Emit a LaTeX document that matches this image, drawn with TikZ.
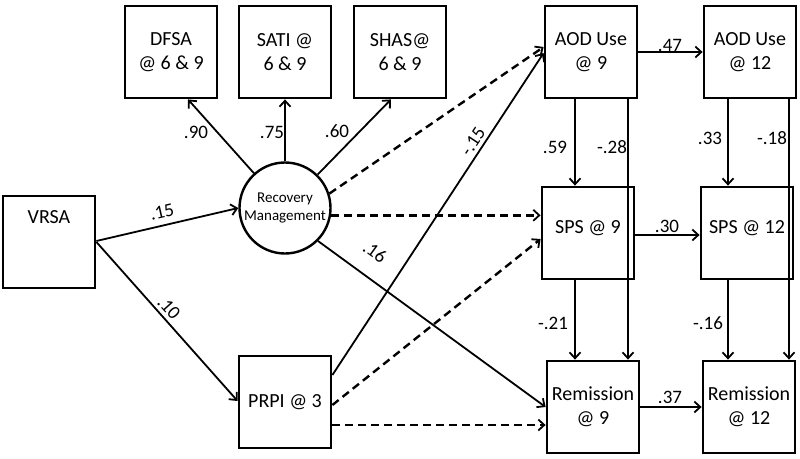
\documentclass[tikz,border=0pt]{standalone}
\usepackage{fontspec}
\setmainfont{Carlito}
\usetikzlibrary{arrows.meta,calc}
\begin{document}
\begin{tikzpicture}[x=1pt,y=-1pt,
  box/.style={draw, line width=2.8pt, minimum width=92pt, minimum height=92pt, inner sep=0pt, align=center, font=\fontsize{20}{24}\selectfont},
  txt/.style={inner sep=0pt, align=center, font=\fontsize{20}{24}\selectfont},
  arr/.style={line width=1.8pt, -{Straight Barb[length=6pt,width=11pt,line width=1.8pt]}},
  darr/.style={arr, line width=2.4pt, dash pattern=on 8pt off 5pt},
  lab/.style={font=\fontsize{19}{22}\selectfont, inner sep=1pt}]
\useasboundingbox (0,0) rectangle (800,458);

% nodes
\node[box] (DFSA) at (171,52) {DFSA\\@ 6 \& 9};
\node[box] (SATI) at (285,52) {SATI @\\6 \& 9};
\node[box] (SHAS) at (400,52) {SHAS@\\6 \& 9};
\node[box] (AOD9) at (591,52) {AOD Use\\@ 9};
\node[box] (AOD12) at (750,52) {AOD Use\\@ 12};
\node[box] (SPS9) at (588,233) {};
\node[txt] (SPS9t) at (588,228) {SPS @ 9};
\node[box] (SPS12) at (747,233) {};
\node[txt] (SPS12t) at (747,228) {SPS @ 12};
\node[box] (REM9) at (593,407) {Remission\\@ 9};
\node[box] (REM12) at (749,407) {Remission\\@ 12};
\node[box] (VRSA) at (49,242) {};
\node[txt] (VRSAt) at (49,217) {VRSA};
\node[box] (PRPI) at (285,402) {PRPI @ 3};
\node[draw, circle, line width=2.4pt, minimum size=91pt, inner sep=0pt, align=center,
      font=\fontsize{15}{18}\selectfont] (RM) at (285,208) {Recovery\\Management};

% indicator arrows
\draw[arr] (RM) -- ([xshift=17pt]DFSA.south);
\draw[arr] (RM) -- (SATI);
\draw[arr] (RM) -- ([xshift=-9pt]SHAS.south);

% VRSA paths
\draw[arr] ([yshift=1pt]VRSA.east) -- (RM.west);
\draw[arr] ([yshift=0pt]VRSA.east) -- ([yshift=1pt]PRPI.west);

% RM paths
\draw[darr] (RM.18) -- ([yshift=5pt]AOD9.west);
\draw[darr] (RM.-9) -- (RM.-9 -| SPS9.west);
\draw[arr] (RM.-45) -- ([yshift=0pt]REM9.west);

% PRPI paths
\draw[arr] ([yshift=27pt]PRPI.east) -- ([yshift=-1pt]AOD9.west);
\draw[darr] ([yshift=-3pt]PRPI.east) -- ([yshift=-6pt]SPS9.west);
\draw[darr] ([yshift=-23pt]PRPI.east) -- ([yshift=-23pt]PRPI.east -| REM9.west);

% right block
\draw[arr] (AOD9.east) -- (AOD9.east -| AOD12.west);
\draw[arr] ([xshift=-16pt]AOD9.south) -- ([xshift=-16pt]AOD9.south |- SPS9.north);
\draw[arr] ([xshift=37pt]AOD9.south) -- ([xshift=37pt]AOD9.south |- REM9.north);
\draw[arr] ([xshift=-22pt]AOD12.south) -- ([xshift=-22pt]AOD12.south |- SPS12.north);
\draw[arr] ([xshift=39pt]AOD12.south) -- ([xshift=39pt]AOD12.south |- REM12.north);
\draw[arr] ([yshift=-2pt]SPS9.east) -- ([yshift=-2pt]SPS9.east -| SPS12.west);
\draw[arr] ([xshift=-13pt]SPS9.south) -- ([xshift=-13pt]SPS9.south |- REM9.north);
\draw[arr] ([xshift=-19pt]SPS12.south) -- ([xshift=-19pt]SPS12.south |- REM12.north);
\draw[arr] (REM9.east) -- (REM9.east -| REM12.west);

% labels
\node[lab] (l90) at (196,132) {.90};
\node[lab] (l75) at (272,132) {.75};
\node[lab] (l60) at (337,131) {.60};
\node[lab, rotate=12.9] (l15) at (162,212) {.15};
\node[lab, rotate=-47.8] (l10) at (169,308) {.10};
\node[lab, rotate=-35.8] (l16) at (375,252) {.16};
\node[lab, rotate=56.5] (lm15) at (473,142) {-.15};
\node[lab] (l47) at (670,45) {.47};
\node[lab] (l59) at (555,147) {.59};
\node[lab] (lm28) at (612,147) {-.28};
\node[lab] (l33) at (710,138) {.33};
\node[lab] (lm18) at (772,138) {-.18};
\node[lab] (l30) at (667,226) {.30};
\node[lab] (lm21) at (553,323) {-.21};
\node[lab] (lm16) at (708,323) {-.16};
\node[lab] (l37) at (670,397) {.37};
\end{tikzpicture}
\end{document}
